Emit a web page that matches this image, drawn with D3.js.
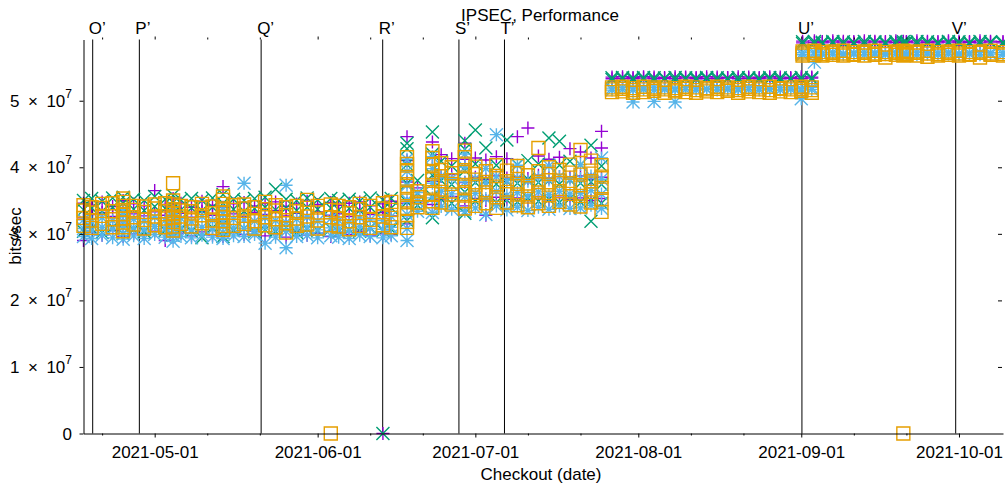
<!DOCTYPE html>
<html>
<head>
<meta charset="utf-8">
<script src="https://cdn.jsdelivr.net/npm/d3@7"></script>
<style>
  body { margin: 0; background: #fff; }
  svg { display: block; font-family: 'Liberation Sans', Arial, sans-serif; }
</style>
</head>
<body>
<script>
const title = 'IPSEC, Performance'
const xLabel = 'Checkout (date)'
const yLabel = 'bits/sec'

// checkout timestamps, one per group of runs
const checkouts = [
  '2021-04-17T11:00Z', '2021-04-19', '2021-04-21', '2021-04-23', '2021-04-25', '2021-04-27', '2021-04-29',
  '2021-05-01', '2021-05-03', '2021-05-04T12:00Z', '2021-05-06', '2021-05-08', '2021-05-10', '2021-05-12',
  '2021-05-14', '2021-05-16', '2021-05-18', '2021-05-20', '2021-05-22', '2021-05-24', '2021-05-26',
  '2021-05-28', '2021-05-30', '2021-06-01', '2021-06-03T12:00Z', '2021-06-05', '2021-06-07', '2021-06-09',
  '2021-06-11', '2021-06-13T10:00Z', '2021-06-15',
  '2021-06-18', '2021-06-20', '2021-06-22T20:00Z', '2021-06-24T12:00Z', '2021-06-26T12:00Z', '2021-06-29',
  '2021-07-01', '2021-07-03', '2021-07-05', '2021-07-07', '2021-07-09', '2021-07-11', '2021-07-13',
  '2021-07-15', '2021-07-17', '2021-07-19', '2021-07-21', '2021-07-23', '2021-07-25',
  '2021-07-27', '2021-07-29', '2021-07-31', '2021-08-02', '2021-08-04', '2021-08-06', '2021-08-08',
  '2021-08-10', '2021-08-12', '2021-08-14', '2021-08-16', '2021-08-18', '2021-08-20', '2021-08-22',
  '2021-08-24', '2021-08-26', '2021-08-28', '2021-08-30', '2021-09-01', '2021-09-03',
  '2021-09-01T06:00Z', '2021-09-03T12:00Z', '2021-09-05', '2021-09-07', '2021-09-09', '2021-09-11',
  '2021-09-13', '2021-09-15', '2021-09-17', '2021-09-19', '2021-09-20T10:00Z', '2021-09-21', '2021-09-23',
  '2021-09-25', '2021-09-27', '2021-09-29', '2021-10-01', '2021-10-03', '2021-10-05', '2021-10-07',
  '2021-10-09T09:00Z',
]

// runs per checkout, Mbit/s
const purple = [
  [29.0, 32.4, 34.6], [30.2, 32.9, 34.3], [29.8, 33.2, 34.8], [30.5, 32.6, 34.1], [29.6, 31.8, 33.5, 35.0],
  [30.0, 33.0, 34.5], [29.9, 32.7, 34.2], [30.4, 33.3, 36.5], [29.0, 32.8, 34.4], [29.5, 31.6, 33.6, 35.3],
  [30.1, 33.1, 34.6], [29.7, 32.5, 34.0], [30.3, 33.4, 34.9], [29.8, 32.8, 34.3], [29.6, 31.9, 34.0, 37.1],
  [30.2, 33.0, 34.5], [29.9, 32.6, 34.7], [30.4, 33.2, 34.2], [29.7, 32.9, 34.6], [30.0, 33.5, 34.8],
  [29.5, 32.7, 34.1], [30.3, 33.1, 34.5], [29.8, 32.5, 34.9], [30.1, 33.3, 34.4], [29.6, 32.8, 34.7],
  [30.2, 33.0, 34.3], [29.9, 32.6, 34.6], [30.4, 33.4, 34.8], [29.7, 32.9, 34.2], [0, 30.0, 33.2, 34.5],
  [29.9, 32.7, 34.9],
  [31.5, 34.6, 37.8, 41.0, 44.6], [34.8, 36.9], [34.4, 37.9, 41.4, 43.8], [35.1, 38.6, 41.9], [35.6, 38.9, 41.3],
  [34.2, 37.7, 41.2, 43.6], [35.3, 38.5, 41.4], [32.8, 35.0, 38.2, 41.1], [35.5, 38.7, 41.6], [35.2, 38.4, 41.3],
  [35.4, 38.6, 44.6], [35.0, 38.3, 45.9], [35.6, 38.8, 41.7], [35.1, 38.4, 41.2], [35.5, 38.6, 41.5],
  [35.2, 38.5, 42.8], [35.4, 38.7, 42.3], [35.0, 38.2, 41.4], [35.3, 38.5, 42.9, 45.4],
  [53.3, 53.55], [53.35, 53.6], [53.3, 53.5], [53.4, 53.6], [53.3, 53.55], [53.35, 53.5], [53.3, 53.6],
  [53.4, 53.55], [53.3, 53.5], [53.35, 53.6], [53.3, 53.55], [53.4, 53.5], [53.3, 53.6], [53.35, 53.55],
  [53.3, 53.5], [53.4, 53.6], [53.3, 53.55], [53.35, 53.5], [53.3, 53.6], [53.4, 53.55],
  [58.7, 58.95], [58.75, 59.0], [58.7, 58.9], [58.8, 59.0], [58.7, 58.95], [58.75, 58.9], [58.7, 59.0],
  [58.8, 58.95], [58.7, 58.9], [58.75, 59.0], [58.7, 58.95], [58.8, 58.9], [58.7, 59.0], [58.75, 58.95],
  [58.7, 58.9], [58.8, 59.0], [58.7, 58.95], [58.75, 58.9], [58.7, 59.0], [58.8, 58.95], [58.7, 58.9],
]

const green = [
  [30.4, 33.6, 35.0], [30.8, 33.9, 35.3], [30.2, 33.4, 34.9], [31.0, 34.0, 35.4], [30.0, 31.6, 33.2, 34.6, 35.5],
  [30.6, 33.7, 35.2], [30.3, 33.5, 35.0], [31.1, 34.1, 35.6], [30.5, 33.8, 35.2], [29.8, 31.5, 33.1, 34.7, 35.8],
  [30.7, 33.6, 35.1], [30.4, 33.9, 35.3], [29.4, 33.5, 35.0], [30.9, 34.0, 35.4], [29.6, 31.4, 33.0, 34.6, 35.9],
  [30.5, 33.7, 35.2], [30.8, 33.4, 35.0], [30.3, 33.8, 35.3], [30.6, 34.0, 35.5], [30.4, 33.6, 36.7],
  [30.9, 33.9, 35.2], [30.2, 33.5, 35.0], [30.7, 34.0, 35.4], [30.5, 33.7, 35.1], [30.8, 33.9, 35.3],
  [30.3, 33.6, 35.0], [30.6, 33.8, 35.2], [30.4, 33.5, 34.9], [30.9, 34.0, 35.4], [0, 30.5, 33.7, 35.1],
  [30.7, 33.9, 35.3],
  [32.0, 34.8, 37.6, 40.4, 42.8, 43.6], [34.3, 36.1, 38.0], [32.4, 35.6, 38.8, 42.0, 45.3], [35.2, 38.0, 40.9],
  [34.6, 37.4, 40.2], [33.1, 36.3, 39.5, 42.7, 44.0], [34.9, 37.7, 40.5, 45.6], [35.3, 38.1, 42.9],
  [34.7, 37.5, 40.3], [35.1, 37.9, 44.1], [34.8, 37.6, 40.4], [35.4, 38.2, 41.0], [34.9, 37.7, 40.5],
  [35.2, 38.0, 44.4], [34.7, 37.5, 40.3, 43.9], [35.3, 38.1, 40.9], [34.8, 37.6, 40.4], [31.9, 35.0, 37.8, 43.3],
  [34.6, 37.4, 40.2],
  [53.2, 53.45], [53.3, 53.5], [53.2, 53.4], [53.25, 53.5], [53.2, 53.45], [53.3, 53.4], [53.2, 53.5],
  [53.25, 53.45], [53.2, 53.4], [53.3, 53.5], [53.2, 53.45], [53.25, 53.4], [53.2, 53.5], [53.3, 53.45],
  [53.2, 53.4], [53.25, 53.5], [53.2, 53.45], [53.3, 53.4], [53.2, 53.5], [53.25, 53.45],
  [58.6, 58.85], [58.65, 58.9], [58.6, 58.8], [58.7, 58.9], [58.6, 58.85], [58.65, 58.8], [58.6, 58.9],
  [58.7, 58.85], [58.6, 58.8], [58.65, 58.9], [58.6, 58.85], [58.7, 58.8], [58.6, 58.9], [58.65, 58.85],
  [58.6, 58.8], [58.7, 58.9], [58.6, 58.85], [58.65, 58.8], [58.6, 58.9], [58.7, 58.85], [58.6, 58.8],
]

const blue = [
  [29.6, 30.8, 32.1], [29.3, 30.5, 31.8], [29.8, 31.0, 32.4], [29.4, 30.7, 32.0], [29.2, 30.1, 31.0, 31.9, 32.8, 33.6],
  [29.7, 30.9, 32.2], [29.3, 30.6, 31.9], [29.9, 31.1, 32.5], [29.5, 30.8, 32.0], [28.9, 29.8, 30.7, 31.6, 32.5, 33.4],
  [29.6, 30.9, 32.3], [29.4, 30.6, 31.8], [29.8, 31.0, 32.6], [29.5, 30.7, 32.0], [29.3, 30.2, 31.1, 32.0, 32.9, 33.7],
  [29.7, 30.9, 32.2], [29.6, 30.8, 32.1, 37.6], [29.9, 30.5, 31.9], [28.6, 31.1, 32.4], [29.5, 30.8, 32.0],
  [27.9, 30.4, 31.7, 37.3], [29.6, 30.9, 32.2], [29.8, 31.0, 32.5], [29.4, 30.6, 31.9], [29.7, 30.9, 32.3],
  [29.5, 30.7, 32.0], [29.3, 30.5, 31.8], [29.8, 31.1, 32.4], [29.6, 30.8, 32.1], [29.4, 30.7, 32.0],
  [29.7, 31.0, 32.6],
  [29.0, 30.8, 32.9, 35.1, 37.3, 39.4, 41.2], [33.4, 34.9, 36.2], [33.2, 35.4, 37.6, 39.8, 41.6], [34.1, 36.4, 38.7],
  [33.7, 36.0, 38.3], [33.4, 35.6, 37.8, 40.0, 42.0], [33.9, 36.1, 38.3], [32.9, 35.3, 37.6, 39.8],
  [34.2, 36.4, 38.6, 44.9], [33.6, 35.8, 38.0], [34.0, 36.2, 38.4, 40.3], [33.5, 35.7, 37.9], [34.0, 36.3, 38.5],
  [33.7, 35.9, 38.1, 40.2], [34.2, 36.4, 38.6], [33.8, 36.0, 38.2], [33.9, 36.1, 38.3, 40.4], [34.3, 36.5, 38.7],
  [33.8, 36.0, 38.2, 41.4],
  [51.6, 51.9], [51.7, 52.0], [49.8, 51.6, 51.9], [51.7, 51.9], [49.9, 51.6, 52.0], [51.7, 51.9], [49.8, 51.6, 51.8],
  [51.7, 52.0], [51.6, 51.9], [51.7, 51.8], [51.6, 52.0], [51.7, 51.9], [51.6, 51.8], [51.7, 52.0],
  [51.6, 51.9], [51.7, 51.8], [51.6, 52.0], [51.7, 51.9], [50.3, 51.6, 51.8], [51.7, 52.0],
  [56.9, 57.2], [55.8, 57.0, 57.3], [56.9, 57.2], [57.0, 57.3], [56.9, 57.1], [57.0, 57.2], [56.9, 57.3],
  [57.0, 57.2], [56.9, 57.1], [57.0, 57.3], [56.9, 57.2], [57.0, 57.1], [56.9, 57.3], [57.0, 57.2],
  [56.9, 57.2], [57.0, 57.3], [56.9, 57.1], [57.0, 57.2], [56.9, 57.3], [57.0, 57.2], [56.9, 57.2],
]

const orange = [
  [31.2, 32.4, 33.5, 34.3], [30.9, 32.0, 33.2, 34.0], [31.5, 32.7, 33.9, 34.5], [31.0, 32.2, 33.4, 34.6],
  [30.4, 31.0, 31.7, 32.3, 33.0, 33.6, 34.2, 34.8, 35.3], [31.4, 32.5, 33.6, 34.2], [30.8, 32.1, 33.3, 34.1],
  [31.3, 32.6, 33.8, 34.4], [31.0, 32.3, 33.4, 34.6], [30.5, 31.1, 31.8, 32.4, 33.1, 33.7, 34.4, 35.0, 37.6],
  [31.5, 32.6, 33.5, 34.2], [31.1, 32.3, 33.4, 34.0], [31.6, 32.8, 33.9, 34.5], [30.9, 32.0, 33.1, 34.1],
  [30.6, 31.2, 31.9, 32.5, 33.2, 33.8, 34.5, 35.1, 35.6], [31.2, 32.4, 33.6, 34.3], [31.5, 32.7, 33.8, 34.4],
  [30.8, 31.9, 33.0, 34.0], [31.3, 32.5, 33.7, 34.8], [31.0, 32.2, 33.5, 34.3], [30.2, 31.6, 32.8, 34.0],
  [31.2, 32.3, 33.4, 34.2], [31.4, 32.6, 33.9, 35.1], [30.8, 32.0, 33.2, 34.2], [0, 31.3, 32.5, 33.6, 34.4],
  [31.1, 32.3, 33.5, 34.2], [30.7, 31.9, 33.1, 34.0], [31.2, 32.5, 33.7, 34.5], [30.9, 32.1, 33.3, 34.2],
  [31.3, 32.6, 33.8, 34.6], [31.0, 32.4, 33.6, 34.8],
  [30.9, 31.8, 32.8, 33.9, 35.0, 36.1, 37.2, 38.3, 39.4, 40.5, 41.5], [34.0, 34.7, 35.5, 36.4],
  [33.9, 34.9, 36.0, 37.1, 38.2, 39.3, 40.4, 41.4, 42.4], [34.7, 36.3, 37.9, 39.6, 40.6], [34.4, 35.9, 37.5, 39.1, 40.0],
  [33.8, 34.9, 36.0, 37.1, 38.2, 39.3, 40.4, 41.5, 42.5], [34.2, 35.8, 37.4, 39.0, 40.1], [34.6, 36.2, 37.8, 39.4],
  [33.9, 35.5, 37.1, 38.7, 40.3], [34.7, 36.3, 37.9, 39.5], [34.3, 35.9, 37.5, 39.1, 40.2], [34.0, 35.6, 37.2, 38.8],
  [34.6, 36.2, 37.8, 39.4, 42.9], [34.2, 35.8, 37.4, 39.0, 40.0], [34.8, 36.4, 38.0, 39.6], [34.4, 36.0, 37.6, 39.2, 40.4],
  [34.1, 35.7, 37.3, 38.9, 42.6], [34.7, 36.3, 37.9, 39.5, 41.0], [33.3, 35.2, 36.9, 38.6, 40.3],
  [51.3, 51.7, 52.0], [51.4, 51.8, 52.1], [51.2, 51.6, 51.9], [51.3, 51.7, 52.1], [51.5, 51.8, 52.0],
  [51.2, 51.7, 52.0], [51.4, 51.6, 51.9], [51.3, 51.8, 52.1], [51.2, 51.6, 52.0], [51.4, 51.7, 51.9],
  [51.3, 51.8, 52.1], [51.5, 51.7, 52.0], [51.2, 51.6, 51.9], [51.4, 51.8, 52.1], [51.3, 51.7, 52.0],
  [51.2, 51.6, 52.1], [51.4, 51.8, 51.9], [51.3, 51.7, 52.0], [51.5, 51.8, 52.1], [51.2, 51.6, 52.0],
  [56.8, 57.1, 57.4], [56.9, 57.2, 57.5], [56.8, 57.0, 57.3], [56.9, 57.2, 57.4], [56.8, 57.1, 57.5],
  [56.9, 57.0, 57.3], [56.8, 57.2, 57.4], [56.9, 57.1, 57.5], [56.5, 57.0, 57.3], [56.9, 57.2, 57.4],
  [0, 56.8, 57.1, 57.5], [56.9, 57.0, 57.3], [56.8, 57.2, 57.4], [56.6, 57.1, 57.5], [56.8, 57.0, 57.3],
  [56.9, 57.2, 57.4], [56.8, 57.1, 57.5], [56.9, 57.0, 57.3], [56.5, 57.2, 57.4], [56.9, 57.1, 57.5],
  [56.8, 57.0, 57.3],
]

// labelled checkouts drawn as vertical rules
const markerNames = ['O’', 'P’', 'Q’', 'R’', 'S’', 'T’', 'U’', 'V’']
const markerDates = [
  '2021-04-19T05:00Z', '2021-04-28T02:00Z', '2021-05-21T06:00Z', '2021-06-13T09:00Z',
  '2021-06-27T21:00Z', '2021-07-06T13:00Z', '2021-09-01T03:00Z', '2021-09-30T09:00Z',
]

const xTicks = ['2021-05-01', '2021-06-01', '2021-07-01', '2021-08-01', '2021-09-01', '2021-10-01']
const yTicks = [0, 1e7, 2e7, 3e7, 4e7, 5e7]
const yMax = 5.92e7

// =======================================================================================

const WIDTH = 1005
const HEIGHT = 486
const FONT = 17
const MARK = 6.5

const series = [
  { values: purple, color: '#9400d3', shape: 'plus' },
  { values: green, color: '#009e73', shape: 'cross' },
  { values: blue, color: '#56b4e9', shape: 'star' },
  { values: orange, color: '#e69f00', shape: 'square' },
]

const symbolPath = {
  plus: h => `M${-h},0H${h}M0,${-h}V${h}`,
  cross: h => `M${-h},${-h}L${h},${h}M${-h},${h}L${h},${-h}`,
  star: h => symbolPath.plus(h) + symbolPath.cross(h),
  square: h => `M${-h},${-h}H${h}V${h}H${-h}Z`,
}

const parseTime = d3.isoParse

const x = d3.scaleUtc()
  .domain(d3.extent(checkouts, parseTime))
  .range([83.5, 1003])

const y = d3.scaleLinear()
  .domain([0, yMax])
  .range([433.5, 39.5])

const svg = d3.select('body').append('svg')
  .attr('width', WIDTH)
  .attr('height', HEIGHT)
  .style('font-size', `${FONT}px`)

const majorDates = xTicks.map(parseTime)
const minorDates = d3.utcDay.range(...x.domain())
  .filter(d => d.getUTCDate() === 11 || d.getUTCDate() === 21)

// vertical rules with their labels
const rules = svg.append('g')
markerDates.forEach((d, i) => {
  const px = x(parseTime(d))
  rules.append('line')
    .attr('x1', px).attr('x2', px)
    .attr('y1', y(yMax)).attr('y2', y(0))
    .attr('stroke', '#000')
  rules.append('text')
    .attr('x', px - 4)
    .attr('y', 34)
    .text(markerNames[i])
})

// points, drawn in plot order
series.forEach(s => {
  const points = s.values.flatMap((runs, i) =>
    runs.map(v => ({ t: parseTime(checkouts[i]), v: v * 1e6 })))

  svg.append('g')
    .attr('fill', 'none')
    .attr('stroke', s.color)
    .attr('stroke-width', 1.4)
    .selectAll('path')
    .data(points)
    .join('path')
    .attr('transform', d => `translate(${x(d.t)},${y(d.v)})`)
    .attr('d', symbolPath[s.shape](MARK))
})

// axes
const axisStyle = g => g
  .call(g => g.selectAll('text').attr('fill', '#000').style('font-size', `${FONT}px`)
    .style('font-family', "'Liberation Sans', Arial, sans-serif"))
  .call(g => g.selectAll('line, path').attr('stroke', '#000'))

svg.append('g')
  .attr('transform', `translate(0,${y(0)})`)
  .call(d3.axisBottom(x).tickValues(majorDates).tickFormat(d3.utcFormat('%Y-%m-%d'))
    .tickSizeInner(4).tickSizeOuter(0).tickPadding(8))
  .call(axisStyle)

svg.append('g')
  .attr('transform', `translate(0,${y(0)})`)
  .call(d3.axisBottom(x).tickValues(minorDates).tickFormat('').tickSize(2))
  .call(g => g.select('.domain').remove())
  .call(axisStyle)

svg.append('g')
  .attr('transform', `translate(0,${y(yMax)})`)
  .call(d3.axisTop(x).tickValues(majorDates).tickFormat('').tickSize(3))
  .call(g => g.select('.domain').remove())
  .call(axisStyle)

svg.append('g')
  .attr('transform', `translate(0,${y(yMax)})`)
  .call(d3.axisTop(x).tickValues(minorDates).tickFormat('').tickSize(2))
  .call(g => g.select('.domain').remove())
  .call(axisStyle)

svg.append('g')
  .attr('transform', `translate(${x.range()[0]},0)`)
  .call(d3.axisLeft(y).tickValues(yTicks).tickFormat('').tickSizeInner(4).tickSizeOuter(0))
  .call(axisStyle)

svg.append('g')
  .attr('transform', `translate(1002,0)`)
  .call(d3.axisLeft(y).tickValues(yTicks.slice(1)).tickFormat('').tickSize(4))
  .call(g => g.select('.domain').remove())
  .call(axisStyle)

// y tick labels as  m × 10^e
const yLabels = svg.append('g').attr('text-anchor', 'end')
yTicks.forEach(v => {
  const t = yLabels.append('text')
    .attr('x', 72)
    .attr('y', y(v) + 6)
  if (v === 0) {
    t.text('0')
    return
  }
  const e = Math.floor(Math.log10(v))
  t.append('tspan').text(`${Math.round(v / 10 ** e)}\u2002×\u200210`)
  t.append('tspan')
    .attr('dy', -9)
    .style('font-size', '12px')
    .text(e)
})

svg.append('text')
  .attr('x', 540)
  .attr('y', 21)
  .attr('text-anchor', 'middle')
  .text(title)

svg.append('text')
  .attr('x', 541)
  .attr('y', 480)
  .attr('text-anchor', 'middle')
  .text(xLabel)

svg.append('text')
  .attr('transform', 'translate(21,236) rotate(-90)')
  .attr('text-anchor', 'middle')
  .text(yLabel)
</script>
</body>
</html>
